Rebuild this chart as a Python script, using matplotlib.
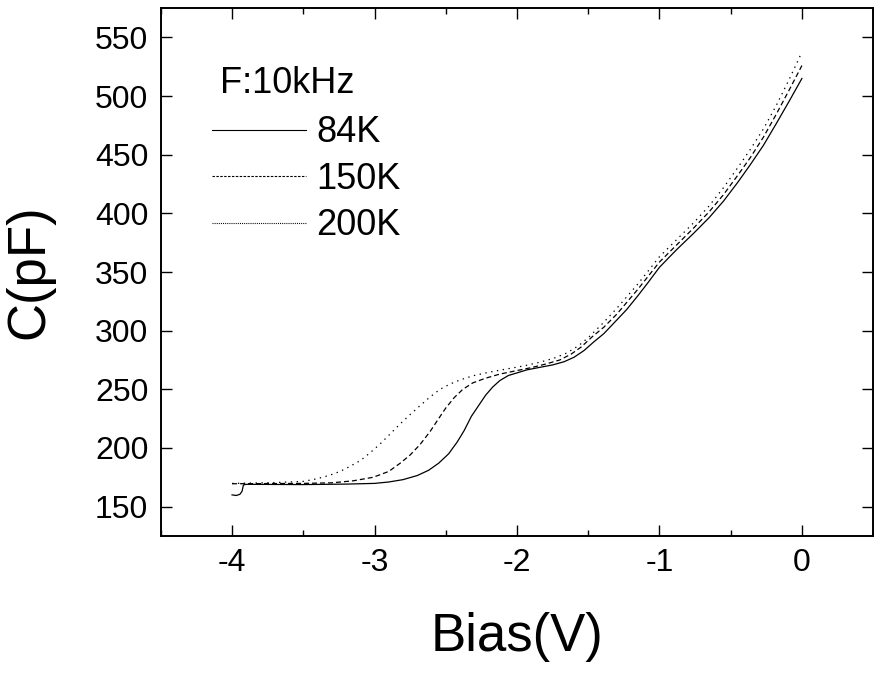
import matplotlib
matplotlib.use("Agg")
import matplotlib.pyplot as plt
from matplotlib.lines import Line2D
from matplotlib.ticker import MultipleLocator

plt.rcParams['font.family'] = ['Liberation Sans', 'DejaVu Sans']
plt.rcParams['axes.unicode_minus'] = False

# 84K (solid)
bias_84 = [-4.00, -3.97, -3.945, -3.93, -3.92, -3.90, -3.5, -3.2, -3.0, -2.90, -2.80,
           -2.70, -2.62, -2.55, -2.48, -2.42, -2.37, -2.32, -2.27, -2.22, -2.17,
           -2.12, -2.06, -2.00, -1.93, -1.85, -1.75, -1.67, -1.60, -1.53, -1.46,
           -1.39, -1.30, -1.23, -1.15, -1.08, -1.00, -0.88, -0.76, -0.65, -0.55,
           -0.45, -0.365, -0.27, -0.18, -0.09, 0.00]
cap_84 = [160.0, 159.5, 160.5, 163.0, 168.5, 169.0, 168.8, 169.2, 169.8, 171.0, 173.0,
          176.5, 181.0, 187.0, 195.0, 205.0, 215.0, 227.0, 236.0, 245.0, 252.0,
          257.5, 261.8, 264.0, 266.6, 268.5, 270.8, 273.5, 277.3, 283.0, 290.5,
          297.5, 309.0, 318.0, 330.0, 341.0, 354.0, 369.0, 383.0, 396.5, 410.5,
          426.5, 441.0, 458.0, 476.5, 495.5, 515.0]

# 150K (dashed)
bias_150 = [-4.00, -3.5, -3.3, -3.15, -3.01, -2.90, -2.82, -2.75, -2.68, -2.61, -2.55,
            -2.50, -2.44, -2.38, -2.31, -2.22, -2.12, -2.00, -1.90, -1.80, -1.70,
            -1.62, -1.55, -1.47, -1.39, -1.30, -1.15, -1.00, -0.88, -0.76, -0.65,
            -0.55, -0.45, -0.365, -0.27, -0.18, -0.09, 0.00]
cap_150 = [169.5, 169.8, 170.3, 172.0, 175.0, 180.0, 187.0, 194.0, 203.0, 214.0, 225.0,
           234.0, 243.0, 250.0, 255.5, 259.5, 263.0, 266.0, 268.5, 271.5, 275.0,
           280.0, 286.0, 295.0, 303.0, 314.0, 335.5, 358.5, 373.0, 387.5, 401.5,
           416.0, 432.5, 447.0, 465.0, 484.5, 505.0, 526.0]

# 200K (dotted)
bias_200 = [-4.00, -3.7, -3.5, -3.41, -3.32, -3.24, -3.17, -3.10, -3.03, -2.96, -2.89,
            -2.82, -2.75, -2.68, -2.61, -2.54, -2.47, -2.40, -2.31, -2.20, -2.07,
            -1.95, -1.84, -1.74, -1.65, -1.57, -1.50, -1.40, -1.30, -1.15, -1.00,
            -0.88, -0.76, -0.65, -0.55, -0.45, -0.365, -0.27, -0.18, -0.09, 0.00]
cap_200 = [169.8, 170.5, 171.5, 173.6, 176.5, 180.1, 184.5, 189.2, 196.0, 203.5, 212.0,
           220.5, 228.5, 236.1, 243.5, 250.0, 254.5, 258.0, 261.5, 264.5, 267.4,
           270.0, 273.1, 276.5, 281.0, 287.0, 294.0, 306.0, 319.0, 340.0, 363.0,
           377.5, 392.0, 406.5, 422.0, 439.0, 454.0, 472.0, 492.0, 514.0, 537.5]

labels = ["84K", "150K", "200K"]

fig = plt.figure(figsize=(8.74, 6.75), dpi=100)
ax = fig.add_axes([0.184, 0.206, 0.815, 0.782])

ax.plot(bias_84, cap_84, color='black', lw=0.9)
ax.plot(bias_150, cap_150, color='black', lw=0.9, dashes=(4, 2.4))
ax.plot(bias_200, cap_200, color='black', lw=0.9, dashes=(1.1, 3.6))

ax.set_xlim(-4.5, 0.5)
ax.set_ylim(125, 575)
ax.xaxis.set_major_locator(MultipleLocator(1))
ax.xaxis.set_minor_locator(MultipleLocator(0.5))
ax.yaxis.set_major_locator(MultipleLocator(50))
ax.tick_params(which='both', direction='in', top=True, right=True, width=1.0)
ax.tick_params(which='major', length=8, labelsize=23, pad=9)
ax.tick_params(which='minor', length=4)
for s in ax.spines.values():
    s.set_linewidth(1.4)

ax.set_xlabel("Bias(V)", fontsize=38, labelpad=24)
ax.set_ylabel("C(pF)", fontsize=38, labelpad=29)

# legend
handles = [Line2D([], [], color='black', lw=0.8),
           Line2D([], [], color='black', lw=0.8, dashes=(2.2, 1.3)),
           Line2D([], [], color='black', lw=0.8, dashes=(0.9, 1.0))]
ax.legend(handles, labels, loc='upper left', bbox_to_anchor=(0.0716, 0.797),
          frameon=False, fontsize=26, handlelength=2.6, handletextpad=0.3,
          labelspacing=0.32, borderpad=0, borderaxespad=0)
ax.text(0.083, 0.839, "F:10kHz", transform=ax.transAxes, fontsize=26, va='baseline')

fig.savefig("out.png", dpi=100)
